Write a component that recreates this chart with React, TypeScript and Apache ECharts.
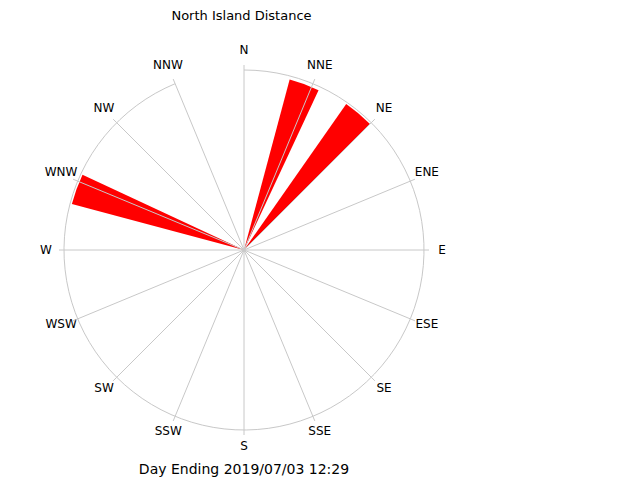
import { useEffect, useRef } from 'react';
import * as echarts from 'echarts';

// compass directions shown round the rose
const directions = ['N', 'NNE', 'NE', 'ENE', 'E', 'ESE', 'SE', 'SSE', 'S', 'SSW', 'SW', 'WSW', 'W', 'WNW', 'NW', 'NNW'];
// 10 degree bins, centres 0..350
const binCentres = Array.from({ length: 36 }, (_, i) => String(i * 10));
// bins that have data (centre angle) and their values
const dataAngles = [20, 40, 290];
const dataValues = [98, 99, 99];
const radiusMax = 100;

const titleText = 'North Island Distance';
const footerText = 'Day Ending 2019/07/03 12:29';

const GRID = '#c8c8c8';
const FONT = 'DejaVu Sans';
const RADIUS = 180;
const LABEL_MARGIN = -20;
const LABEL_DIST = 198; // label centres sit on this circle
const LABEL_SHIFT_Y = -2;

// echarts aligns angle labels by quadrant; pad each one so it ends up centred on LABEL_DIST
function directionItem(name: string, i: number, ctx: CanvasRenderingContext2D | null) {
    const a = (i * 22.5 * Math.PI) / 180;
    const s = Math.sin(a);
    const c = Math.cos(a);
    const r = RADIUS + LABEL_MARGIN;
    const px = r * s;
    const py = -r * c;
    const cx = LABEL_DIST * s;
    const cy = -LABEL_DIST * c + LABEL_SHIFT_Y;
    const w = ctx ? ctx.measureText(name).width : name.length * 8;
    const h = 12;
    let pt = 0, pr = 0, pb = 0, pl = 0;
    const hAlign = Math.abs(px) / RADIUS < 0.3 ? 'center' : px > 0 ? 'left' : 'right';
    const vAlign = Math.abs(py) / RADIUS < 0.3 ? 'middle' : py > 0 ? 'top' : 'bottom';
    if (hAlign === 'left') pl = cx - w / 2 - px;
    else if (hAlign === 'right') pr = px - (cx + w / 2);
    else {
        const d = 2 * (cx - px);
        if (d > 0) pl = d; else pr = -d;
    }
    if (vAlign === 'top') pt = cy - h / 2 - py;
    else if (vAlign === 'bottom') pb = py - (cy + h / 2);
    else {
        const d = 2 * (cy - py);
        if (d > 0) pt = d; else pb = -d;
    }
    const clamp = (v: number) => Math.max(0, Math.round(v * 10) / 10);
    return { value: name, textStyle: { padding: [clamp(pt), clamp(pr), clamp(pb), clamp(pl)] } };
}

const App: React.FC = () => {
    const chartRef = useRef<HTMLDivElement | null>(null);

    useEffect(() => {
        if (!chartRef.current) return;
        const chart = echarts.init(chartRef.current, undefined, { renderer: 'svg' });

        const ctx = document.createElement('canvas').getContext('2d');
        if (ctx) ctx.font = `12px "${FONT}"`;

        const barData = binCentres.map((c) => {
            const idx = dataAngles.indexOf(Number(c));
            return idx >= 0 ? dataValues[idx] : null;
        });

        const option = {
            animation: false,
            backgroundColor: '#fff',
            title: [
                {
                    text: titleText,
                    left: 241.5,
                    top: 15.5,
                    padding: 0,
                    textAlign: 'center',
                    textVerticalAlign: 'middle',
                    textStyle: { fontFamily: FONT, fontSize: 13, fontWeight: 'normal', color: '#000' }
                },
                {
                    text: footerText,
                    left: 244,
                    top: 469,
                    padding: 0,
                    textAlign: 'center',
                    textVerticalAlign: 'middle',
                    textStyle: { fontFamily: FONT, fontSize: 14, fontWeight: 'normal', color: '#000' }
                }
            ],
            polar: [
                { center: [244, 250], radius: RADIUS },
                { center: [244, 250], radius: RADIUS }
            ],
            angleAxis: [
                {
                    // bins for the bars, first bin centred on north
                    polarIndex: 0,
                    type: 'category',
                    data: binCentres,
                    startAngle: 95,
                    clockwise: true,
                    show: false,
                    axisLine: { show: false },
                    axisTick: { show: false },
                    axisLabel: { show: false },
                    splitLine: { show: false }
                },
                {
                    // compass grid drawn over the bars
                    polarIndex: 1,
                    type: 'category',
                    data: directions.map((d, i) => directionItem(d, i, ctx)),
                    boundaryGap: false,
                    startAngle: 90,
                    clockwise: true,
                    z: 3,
                    axisLine: { show: true, lineStyle: { color: GRID, width: 1 } },
                    axisTick: { show: true, length: 5, lineStyle: { color: GRID, width: 1 } },
                    axisLabel: { show: true, margin: LABEL_MARGIN, color: '#000', fontFamily: FONT, fontSize: 12 },
                    splitLine: { show: true, lineStyle: { color: GRID, width: 1 } }
                }
            ],
            radiusAxis: [
                { polarIndex: 0, type: 'value', min: 0, max: radiusMax, show: false },
                { polarIndex: 1, type: 'value', min: 0, max: radiusMax, show: false }
            ],
            series: [
                {
                    type: 'bar',
                    coordinateSystem: 'polar',
                    polarIndex: 0,
                    data: barData,
                    barCategoryGap: '0%',
                    barGap: '0%',
                    itemStyle: { color: '#ff0000' }
                }
            ]
        };

        chart.setOption(option);

        return () => {
            chart.dispose();
        };
    }, []);

    return (
        <div
            ref={chartRef}
            style={{ position: 'absolute', left: 0, top: 0, width: 640, height: 480 }}
        />
    );
};

export default App;
